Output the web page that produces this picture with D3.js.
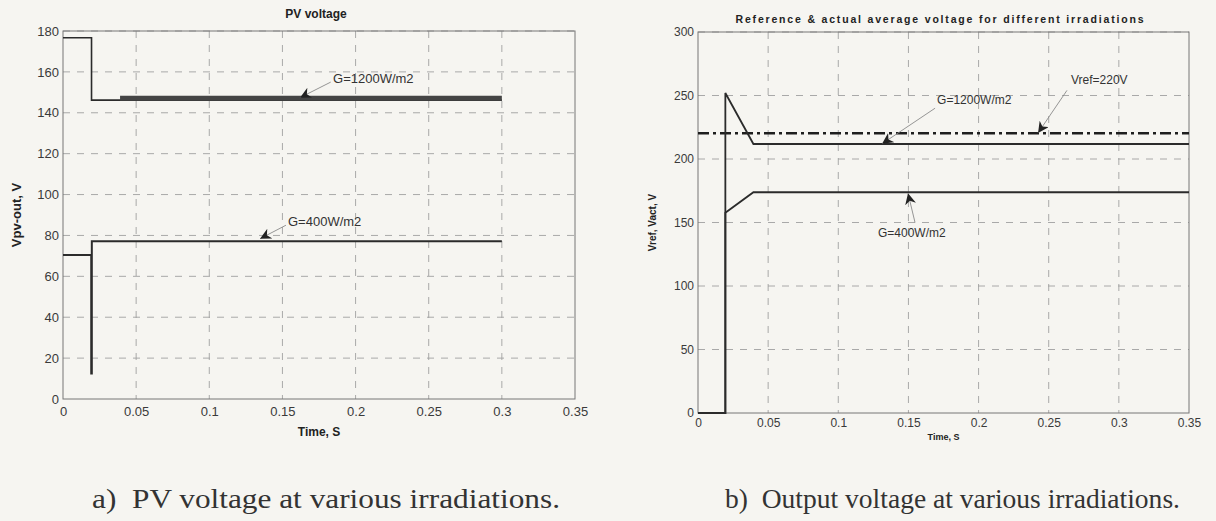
<!DOCTYPE html>
<html>
<head>
<meta charset="utf-8">
<script src="https://cdn.jsdelivr.net/npm/d3@7"></script>
<style>
  body { margin: 0; background: #f6f5f1; }
  svg { display: block; }
</style>
</head>
<body>
<div class="stage"></div>
<script>
// ---- data ----
var xTicks = [0, 0.05, 0.1, 0.15, 0.2, 0.25, 0.3, 0.35];
var xTickLabels = ["0", "0.05", "0.1", "0.15", "0.2", "0.25", "0.3", "0.35"];

// panel a: PV voltage
var pvTicks = [0, 20, 40, 60, 80, 100, 120, 140, 160, 180];
var pv1200 = [[0, 176.7], [0.0195, 176.7], [0.0195, 146.2], [0.3, 146.2]];
var pv1200Ripple = [[0.039, 147.1], [0.3, 147.1]];
var pv400 = [[0, 70.4], [0.0193, 70.4], [0.0193, 12.5], [0.0197, 12.5], [0.0197, 77.2], [0.3, 77.2]];
var pvNotes = [
  {text: "G=1200W/m2", tx: 0.1846, ty: 157, from: [0.183, 155], to: [0.162, 147.4]},
  {text: "G=400W/m2", tx: 0.1538, ty: 87, from: [0.1524, 85], to: [0.1347, 78.4]}
];

// panel b: output voltage
var outTicks = [0, 50, 100, 150, 200, 250, 300];
var vref = [[0, 220.3], [0.35, 220.3]];
var out1200 = [[0, 0], [0.0195, 0], [0.0195, 252], [0.0395, 211.8], [0.35, 211.8]];
var out400 = [[0, 0], [0.0195, 0], [0.0195, 157.7], [0.0395, 173.8], [0.35, 173.8]];
var outNotes = [
  {text: "G=1200W/m2", tx: 0.1704, ty: 246.5, from: [0.169, 240], to: [0.1312, 212]},
  {text: "Vref=220V", tx: 0.2659, ty: 262, from: [0.263, 254], to: [0.2424, 220.5]},
  {text: "G=400W/m2", tx: 0.1283, ty: 141.7, from: [0.1547, 150], to: [0.1497, 173]}
];

var svg = d3.select(".stage").append("svg").attr("width", 1216).attr("height", 521);

svg.append("defs").append("marker")
  .attr("id", "head")
  .attr("viewBox", "0 0 10 10")
  .attr("refX", 10).attr("refY", 5)
  .attr("markerWidth", 11).attr("markerHeight", 11)
  .attr("markerUnits", "userSpaceOnUse")
  .attr("orient", "auto")
  .append("path").attr("d", "M0,0 L10,5 L0,10 L3,5 Z").attr("fill", "#222");

function drawPanel(p) {
  var x = d3.scaleLinear().domain([0, 0.35]).range([p.left, p.right]);
  var y = d3.scaleLinear().domain([0, p.yMax]).range([p.bottom, p.top]);
  var g = svg.append("g");

  // grid
  g.selectAll("line.vg").data(xTicks.slice(1, -1)).enter().append("line")
    .attr("x1", function(d){ return x(d); }).attr("x2", function(d){ return x(d); })
    .attr("y1", p.top).attr("y2", p.bottom)
    .attr("stroke", "#a0a0a0").attr("stroke-width", 0.9).attr("stroke-dasharray", "7,7");
  g.selectAll("line.hg").data(p.yTicks.slice(1)).enter().append("line")
    .attr("x1", p.left).attr("x2", p.right)
    .attr("y1", function(d){ return y(d); }).attr("y2", function(d){ return y(d); })
    .attr("stroke", "#a0a0a0").attr("stroke-width", 0.9).attr("stroke-dasharray", "7,7");

  g.append("rect").attr("x", p.left).attr("y", p.top)
    .attr("width", p.right - p.left).attr("height", p.bottom - p.top)
    .attr("fill", "none").attr("stroke", "#777").attr("stroke-width", 1);

  // axes
  var ax = g.append("g").attr("transform", "translate(0," + p.bottom + ")")
    .call(d3.axisBottom(x).tickValues(xTicks).tickFormat(function(d, i){ return xTickLabels[i]; })
      .tickSize(0).tickPadding(p.xPad));
  var ay = g.append("g").attr("transform", "translate(" + p.left + ",0)")
    .call(d3.axisLeft(y).tickValues(p.yTicks).tickSize(0).tickPadding(4));
  [ax, ay].forEach(function(a){
    a.select(".domain").remove();
    a.selectAll("text").attr("font-family", "Arial, 'Liberation Sans', sans-serif")
      .attr("font-size", p.tickSize).attr("fill", "#3a3a3a");
  });

  // lines
  var line = d3.line().x(function(d){ return x(d[0]); }).y(function(d){ return y(d[1]); });
  p.series.forEach(function(s){
    g.append("path").datum(s.data).attr("d", line)
      .attr("fill", "none").attr("stroke", s.color || "#2b2b2b")
      .attr("stroke-width", s.width).attr("stroke-dasharray", s.dash || null);
  });

  // annotations
  p.notes.forEach(function(n){
    g.append("line")
      .attr("x1", x(n.from[0])).attr("y1", y(n.from[1]))
      .attr("x2", x(n.to[0])).attr("y2", y(n.to[1]))
      .attr("stroke", "#8a8a8a").attr("stroke-width", 0.9)
      .attr("marker-end", "url(#head)");
    g.append("text").attr("x", x(n.tx)).attr("y", y(n.ty))
      .attr("dy", "0.35em")
      .attr("font-family", "Arial, 'Liberation Sans', sans-serif")
      .attr("font-size", p.noteSize).attr("fill", "#333")
      .text(n.text);
  });

  // titles
  var cx = (p.left + p.right) / 2;
  g.append("text").attr("x", cx + p.titleShift).attr("y", p.titleY).attr("text-anchor", "middle")
    .attr("font-family", "Arial, 'Liberation Sans', sans-serif").attr("font-weight", "bold")
    .attr("font-size", p.titleSize).attr("fill", "#222")
    .attr("textLength", p.titleLen || null)
    .text(p.title);
  g.append("text").attr("x", cx).attr("y", p.xLabelY).attr("text-anchor", "middle")
    .attr("font-family", "Arial, 'Liberation Sans', sans-serif").attr("font-weight", "bold")
    .attr("font-size", p.xLabelSize).attr("fill", "#222")
    .text("Time, S");
  g.append("text")
    .attr("transform", "translate(" + p.yLabelX + "," + ((p.top + p.bottom) / 2) + ") rotate(-90)")
    .attr("text-anchor", "middle")
    .attr("font-family", "Arial, 'Liberation Sans', sans-serif").attr("font-weight", "bold")
    .attr("font-size", p.yLabelSize).attr("fill", "#222")
    .text(p.yLabel);
}

drawPanel({
  left: 63, right: 575, top: 31, bottom: 399, yMax: 180, yTicks: pvTicks,
  xPad: 8, tickSize: 13, noteSize: 13,
  title: "PV voltage", titleY: 18, titleSize: 12, titleShift: -3,
  xLabelY: 436, xLabelSize: 12, yLabel: "Vpv-out, V", yLabelX: 21, yLabelSize: 13,
  series: [
    {data: pv1200, width: 1.6},
    {data: pv1200Ripple, width: 5, color: "#444"},
    {data: pv400, width: 2}
  ],
  notes: pvNotes
});

drawPanel({
  left: 698, right: 1189, top: 32, bottom: 413, yMax: 300, yTicks: outTicks,
  xPad: 5, tickSize: 12, noteSize: 12,
  title: "Reference & actual average voltage for different irradiations", titleY: 23, titleSize: 10.5,
  titleShift: -4, titleLen: 408,
  xLabelY: 440, xLabelSize: 9, yLabel: "Vref, Vact, V", yLabelX: 656, yLabelSize: 10,
  series: [
    {data: vref, width: 2.6, dash: "11,4,3,4", color: "#1e1e1e"},
    {data: out1200, width: 1.8},
    {data: out400, width: 1.8}
  ],
  notes: outNotes
});

// captions
var captions = [
  {text: "a)\u00a0\u00a0PV voltage at various irradiations.", x: 92, len: 468},
  {text: "b)\u00a0\u00a0Output voltage at various irradiations.", x: 725, len: 455}
];
svg.selectAll("text.caption").data(captions).enter().append("text")
  .attr("class", "caption")
  .attr("x", function(d){ return d.x; }).attr("y", 508)
  .attr("font-family", "'Liberation Serif', 'Times New Roman', Times, serif")
  .attr("font-size", 27).attr("fill", "#333")
  .attr("textLength", function(d){ return d.len; })
  .attr("lengthAdjust", "spacingAndGlyphs")
  .text(function(d){ return d.text; });
</script>
</body>
</html>
